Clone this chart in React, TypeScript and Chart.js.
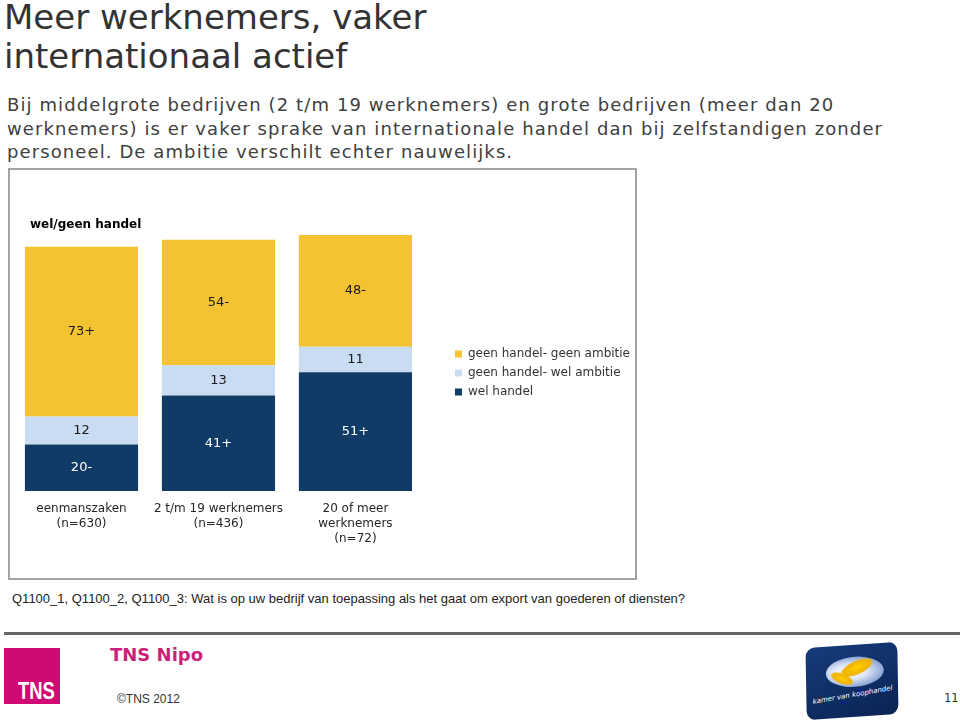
import React, { useEffect, useRef } from 'react';
import { Chart, registerables } from 'chart.js';

Chart.register(...registerables);

// ---- data ----
const categories: string[][] = [
  ['eenmanszaken', '(n=630)'],
  ['2 t/m 19 werknemers', '(n=436)'],
  ['20 of meer', 'werknemers', '(n=72)'],
];
const seriesNames = ['wel handel', 'geen handel- wel ambitie', 'geen handel- geen ambitie'];
const welHandel = [20, 41, 51];
const geenHandelWelAmbitie = [12, 13, 11];
const geenHandelGeenAmbitie = [73, 54, 48];
// significance markers printed after each value
const welHandelMarks = ['-', '+', '+'];
const welAmbitieMarks = ['', '', ''];
const geenAmbitieMarks = ['+', '-', '-'];
const chartTitle = 'wel/geen handel';
const yMax = 110;

const seriesColors = ['#0f3b66', '#c9dcf1', '#f3c332'];
const labelColors = ['#ffffff', '#1a1a1a', '#1a1a1a'];
const allMarks = [welHandelMarks, welAmbitieMarks, geenAmbitieMarks];

const valueLabels = {
  id: 'valueLabels',
  afterDatasetsDraw(chart: any) {
    const { ctx, chartArea } = chart;
    ctx.save();
    ctx.font = '13px "DejaVu Sans"';
    ctx.textAlign = 'center';
    ctx.textBaseline = 'middle';
    chart.data.datasets.forEach((ds: any, di: number) => {
      const meta = chart.getDatasetMeta(di);
      meta.data.forEach((bar: any, i: number) => {
        const { x, y, base } = bar.getProps(['x', 'y', 'base'], true);
        ctx.fillStyle = labelColors[di];
        ctx.fillText(String(ds.data[i]) + allMarks[di][i], x, (y + base) / 2);
      });
    });
    ctx.font = 'bold 12px "DejaVu Sans"';
    ctx.textAlign = 'left';
    ctx.fillStyle = '#000';
    ctx.fillText(chartTitle, chartArea.left + 17, chartArea.top - 10);
    ctx.restore();
  },
};

function StackedChart() {
  const ref = useRef<HTMLCanvasElement | null>(null);
  useEffect(() => {
    if (!ref.current) return;
    const chart = new Chart(ref.current, {
      type: 'bar',
      data: {
        labels: categories as any,
        datasets: [
          { label: seriesNames[0], data: welHandel, backgroundColor: seriesColors[0], borderWidth: 0 },
          { label: seriesNames[1], data: geenHandelWelAmbitie, backgroundColor: seriesColors[1], borderWidth: 0 },
          { label: seriesNames[2], data: geenHandelGeenAmbitie, backgroundColor: seriesColors[2], borderWidth: 0 },
        ],
      },
      options: {
        animation: false,
        responsive: false,
        maintainAspectRatio: false,
        datasets: { bar: { categoryPercentage: 1, barPercentage: 0.826 } } as any,
        layout: { padding: { left: 3, right: 0, top: 65, bottom: 31 } },
        plugins: {
          legend: {
            position: 'right',
            reverse: true,
            maxWidth: 300,
            fullSize: false,
            title: { display: true, text: '', padding: 0, font: { size: 10, lineHeight: 2 } },
            labels: {
              boxWidth: 7,
              boxHeight: 7,
              padding: 7,
              color: '#333333',
              font: { family: 'DejaVu Sans', size: 12 },
            },
          },
          tooltip: { enabled: false },
          title: { display: false },
        },
        scales: {
          x: {
            stacked: true,
            grid: { display: false, drawTicks: false },
            border: { display: false },
            ticks: {
              padding: 10,
              color: '#262626',
              font: { family: 'DejaVu Sans', size: 12, lineHeight: 1.25 },
              maxRotation: 0,
              minRotation: 0,
              autoSkip: false,
            },
            afterFit: (s: any) => { s.height = 56; },
          },
          y: {
            stacked: true,
            position: 'right',
            min: 0,
            max: yMax,
            grid: { display: false, drawTicks: false },
            border: { display: false },
            ticks: { display: false },
            afterFit: (s: any) => { s.width = 24; },
          },
        },
      },
      plugins: [valueLabels],
    } as any);
    return () => chart.destroy();
  }, []);
  return (
    <canvas
      ref={ref}
      width={630}
      height={408}
      style={{ position: 'absolute', left: 10, top: 170, width: 630, height: 408 }}
    />
  );
}

export default function App() {
  const abs = (o: React.CSSProperties): React.CSSProperties => ({ position: 'absolute', ...o });
  return (
    <div style={abs({ left: 0, top: 0, width: 960, height: 726, background: '#fff', overflow: 'hidden', fontFamily: '"DejaVu Sans", sans-serif' })}>
      <div style={abs({ left: 4, top: -2, fontSize: 34, lineHeight: '39px', color: '#333', whiteSpace: 'nowrap' })}>
        Meer werknemers, vaker<br />internationaal actief
      </div>
      <div style={abs({ left: 7, top: 93, fontSize: 18, letterSpacing: '1.1px', lineHeight: '23.5px', color: '#404040', whiteSpace: 'nowrap' })}>
        Bij middelgrote bedrijven (2 t/m 19 werknemers) en grote bedrijven (meer dan 20<br />
        werknemers) is er vaker sprake van internationale handel dan bij zelfstandigen zonder<br />
        personeel. De ambitie verschilt echter nauwelijks.
      </div>
      <div style={abs({ left: 8, top: 168, width: 629, height: 412, border: '2px solid #a3a3a3', boxSizing: 'border-box' })} />
      <StackedChart />
      <div style={abs({ left: 12, top: 590, fontFamily: '"Liberation Sans", sans-serif', fontSize: 13, lineHeight: '17px', color: '#222', whiteSpace: 'nowrap' })}>
        Q1100_1, Q1100_2, Q1100_3: Wat is op uw bedrijf van toepassing als het gaat om export van goederen of diensten?
      </div>
      <div style={abs({ left: 4, top: 632, width: 956, height: 3, background: '#666' })} />
      <div style={abs({ left: 4, top: 648, width: 56, height: 56, background: '#cf0a74' })}>
        <div style={abs({ left: 14, top: 32, fontFamily: '"Liberation Sans", sans-serif', fontWeight: 'bold', fontSize: 23, lineHeight: '22px', color: '#fff', transform: 'scaleX(0.8)', transformOrigin: 'left center' })}>TNS</div>
      </div>
      <div style={abs({ left: 110, top: 644, fontFamily: '"DejaVu Sans", sans-serif', fontWeight: 'bold', fontSize: 18, lineHeight: '22px', color: '#cc1f7a', whiteSpace: 'nowrap' })}>TNS Nipo</div>
      <div style={abs({ left: 117, top: 691, fontFamily: '"Liberation Sans", sans-serif', fontSize: 12, lineHeight: '16px', color: '#333', whiteSpace: 'nowrap' })}>©TNS 2012</div>
      <div style={abs({ left: 806, top: 645, width: 92, height: 72, borderRadius: 9, background: 'linear-gradient(160deg, #163c7c, #0a2352)', transform: 'rotate(-4deg) skewX(-3deg)', overflow: 'hidden' })}>
        <div style={abs({ left: 20, top: 12, width: 58, height: 30, borderRadius: '50%', background: 'radial-gradient(ellipse at 40% 50%, #ffffff 0%, #dfe7f7 35%, #8fa7d6 70%, rgba(20,60,124,0) 100%)' })} />
        <div style={abs({ left: 34, top: 16, width: 34, height: 14, borderRadius: '50%', background: 'radial-gradient(ellipse at 50% 50%, #ffd000 0%, #f0b400 55%, rgba(240,180,0,0) 100%)', transform: 'rotate(-20deg)' })} />
        <div style={abs({ left: 24, top: 28, width: 24, height: 10, borderRadius: '50%', background: 'radial-gradient(ellipse at 50% 50%, #ffd000 0%, #f0b400 55%, rgba(240,180,0,0) 100%)', transform: 'rotate(25deg)' })} />
        <div style={abs({ left: 6, top: 46, fontFamily: '"DejaVu Sans", sans-serif', fontSize: 7, fontStyle: 'italic', color: '#fff', whiteSpace: 'nowrap', transform: 'rotate(-6deg)' })}>kamer van koophandel</div>
      </div>
      <div style={abs({ left: 944, top: 690, fontFamily: '"DejaVu Sans", sans-serif', fontSize: 11.5, lineHeight: '16px', color: '#333' })}>11</div>
    </div>
  );
}
